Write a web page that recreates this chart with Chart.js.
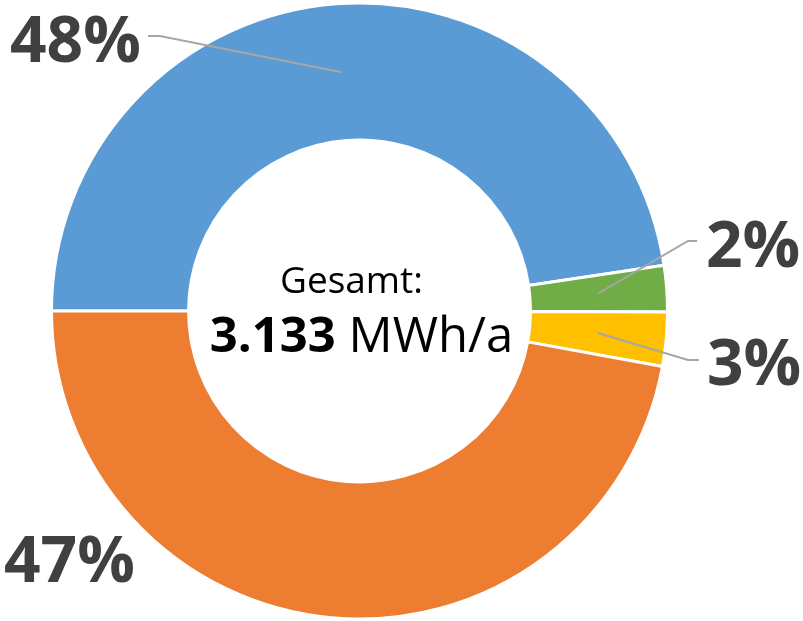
<!DOCTYPE html>
<html>
<head>
<meta charset="utf-8">
<script src="https://cdn.jsdelivr.net/npm/chart.js@4.4.0/dist/chart.umd.min.js"></script>
<style>
  html, body { margin: 0; padding: 0; background: #fff; }
  canvas { display: block; }
</style>
</head>
<body>
<canvas id="energyChart" width="803" height="621"></canvas>
<script>
// Data (MWh/a)
const categories = ['Anteil 1', 'Anteil 2', 'Anteil 3', 'Anteil 4'];
const sliceValues = [1492, 76, 89, 1476];
const sliceColors = ['#5B9BD5', '#70AD47', '#FFC000', '#ED7D31'];
const centerTitle = 'Gesamt:';
const totalValue = '3.133';
const totalUnit = ' MWh/a';

// Label placement (text start + leader elbow), one per slice
const labelPlacement = [
    { x: 10, y: 62, leader: [[148, 36], [160, 36]] },
    { x: 706, y: 267, leader: [[697, 241], [688, 241]] },
    { x: 707, y: 385, leader: [[699, 360], [688, 360]] },
    { x: 4, y: 582, leader: null }
];

const total = sliceValues.reduce((a, b) => a + b, 0);

const doughnutLabels = {
    id: 'doughnutLabels',
    afterDatasetsDraw(chart) {
        const ctx = chart.ctx;
        const arcs = chart.getDatasetMeta(0).data;
        ctx.save();

        // leader lines
        ctx.strokeStyle = '#A6A6A6';
        ctx.lineWidth = 2;
        arcs.forEach((arc, i) => {
            const place = labelPlacement[i];
            if (!place.leader) return;
            const p = arc.getProps(['x', 'y', 'startAngle', 'endAngle', 'innerRadius', 'outerRadius'], true);
            const mid = (p.startAngle + p.endAngle) / 2;
            const r = (p.innerRadius + p.outerRadius) / 2;
            ctx.beginPath();
            ctx.moveTo(place.leader[0][0], place.leader[0][1]);
            ctx.lineTo(place.leader[1][0], place.leader[1][1]);
            ctx.lineTo(p.x + Math.cos(mid) * r, p.y + Math.sin(mid) * r);
            ctx.stroke();
        });

        // percent labels
        ctx.fillStyle = '#404040';
        ctx.font = 'bold 64px "Open Sans"';
        ctx.textAlign = 'left';
        ctx.textBaseline = 'alphabetic';
        sliceValues.forEach((v, i) => {
            const pct = Math.round(v / total * 100) + '%';
            ctx.fillText(pct, labelPlacement[i].x, labelPlacement[i].y);
        });

        // center text
        const c = arcs[0].getProps(['x', 'y'], true);
        ctx.fillStyle = '#000';
        ctx.textAlign = 'center';
        ctx.font = '37px "Open Sans"';
        ctx.fillText(centerTitle, c.x - 8, c.y - 18);

        const boldFont = 'bold 49px "Open Sans"';
        const normFont = '49px "Open Sans"';
        ctx.font = boldFont;
        const wBold = ctx.measureText(totalValue).width;
        ctx.font = normFont;
        const wNorm = ctx.measureText(totalUnit).width;
        const startX = c.x + 2 - (wBold + wNorm) / 2;
        const baseY = c.y + 41;
        ctx.textAlign = 'left';
        ctx.font = boldFont;
        ctx.fillText(totalValue, startX, baseY);
        ctx.font = normFont;
        ctx.fillText(totalUnit, startX + wBold, baseY);

        ctx.restore();
    }
};

new Chart(document.getElementById('energyChart'), {
    type: 'doughnut',
    data: {
        labels: categories,
        datasets: [{
            data: sliceValues,
            backgroundColor: sliceColors,
            borderColor: '#FFFFFF',
            borderWidth: 3
        }]
    },
    options: {
        responsive: false,
        animation: false,
        rotation: -90,
        cutout: '55.5%',
        layout: { padding: { left: 50, right: 134, top: 1, bottom: 0 } },
        plugins: {
            legend: { display: false },
            tooltip: { enabled: false }
        }
    },
    plugins: [doughnutLabels]
});
</script>
</body>
</html>
